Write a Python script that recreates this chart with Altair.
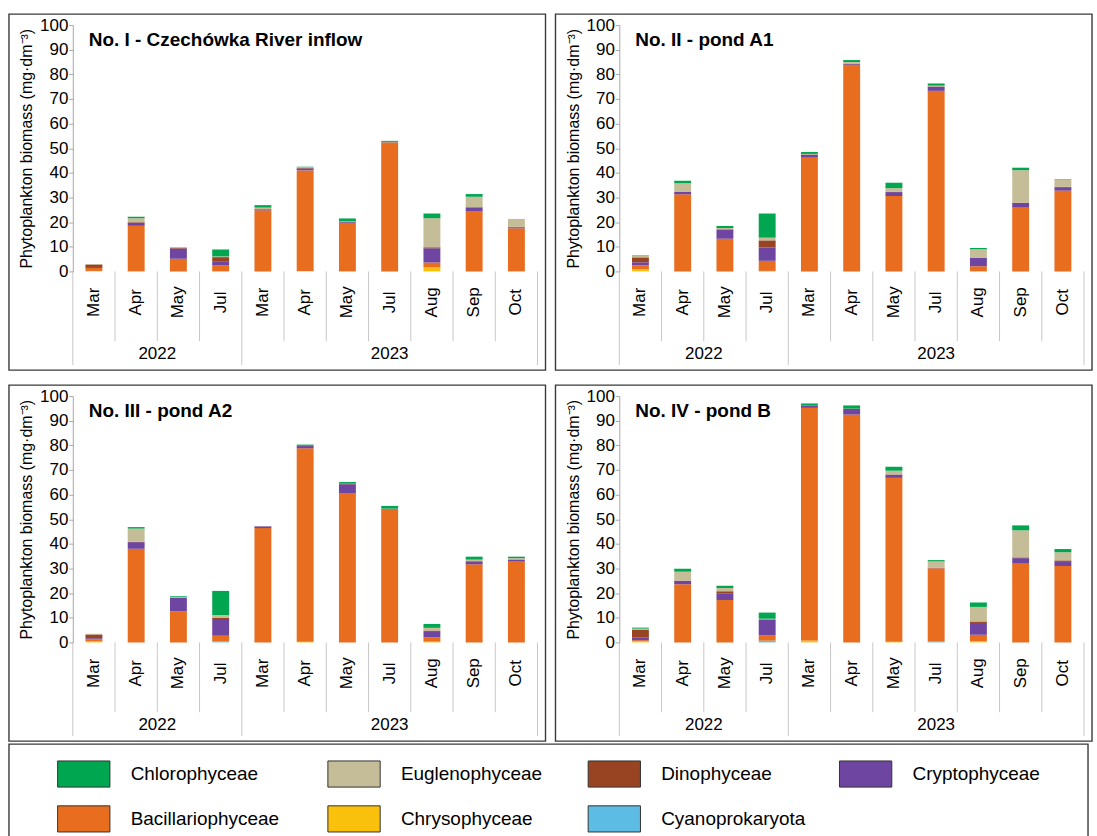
import altair as alt
import pandas as pd

# Sampling dates (month, year) shared by all four sites
months = ["Mar", "Apr", "May", "Jul", "Mar", "Apr", "May", "Jul", "Aug", "Sep", "Oct"]
years = ["2022", "2022", "2022", "2022", "2023", "2023", "2023", "2023", "2023", "2023", "2023"]

# Taxonomic groups, bottom of the stack first
groups = ["Cyanoprokaryota", "Chrysophyceae", "Bacillariophyceae", "Cryptophyceae",
          "Dinophyceae", "Euglenophyceae", "Chlorophyceae"]
group_colors = ["#5DBCE4", "#F9C10B", "#E86D1F", "#6E45A0", "#984321", "#C4BD97", "#00A650"]

# Biomass (mg/dm3) per group, one value per sampling date
# No. I - Czechówka River inflow
I_cyano = [0, 0, 0, 0, 0, 0, 0, 0, 0, 0, 0]
I_chryso = [0.2, 0, 0, 0, 0, 0.2, 0, 0, 1.6, 0, 0]
I_bacil = [1.2, 18.5, 5.1, 2.4, 24.8, 40.8, 19.7, 51.9, 2.0, 24.3, 17.5]
I_crypto = [0.4, 1.3, 4.2, 1.5, 0.4, 0.8, 0.3, 0.2, 5.8, 1.6, 0.4]
I_dino = [1.0, 0.2, 0.2, 1.9, 0.1, 0.2, 0.1, 0.3, 0.4, 0.2, 0.2]
I_eugl = [0.2, 1.6, 0.2, 0.3, 0.6, 0.3, 0.2, 0.2, 11.8, 4.2, 3.2]
I_chloro = [0, 0.6, 0.1, 2.8, 1.0, 0.2, 1.2, 0.4, 1.9, 1.1, 0]

# No. II - pond A1
II_cyano = [0, 0, 0, 0.2, 0, 0, 0, 0, 0, 0, 0]
II_chryso = [0.9, 0, 0, 0, 0, 0, 0, 0, 0, 0, 0]
II_bacil = [1.6, 31.3, 13.3, 4.1, 46.4, 83.8, 30.6, 73.3, 2.1, 25.9, 32.8]
II_crypto = [1.2, 1.0, 3.7, 5.4, 1.0, 0.3, 1.6, 1.7, 3.4, 1.9, 1.4]
II_dino = [2.0, 0.1, 0.1, 2.9, 0.1, 0.1, 0.1, 0.1, 0.1, 0.1, 0.1]
II_eugl = [0.6, 3.4, 0.5, 1.1, 0.2, 0.8, 1.5, 0.3, 3.4, 13.2, 2.9]
II_chloro = [0.2, 1.0, 0.8, 9.8, 0.8, 0.8, 2.2, 0.9, 0.5, 1.0, 0.2]

# No. III - pond A2
III_cyano = [0, 0, 0, 0.5, 0, 0, 0, 0, 0, 0, 0]
III_chryso = [0.4, 0, 0, 0, 0, 0.3, 0, 0, 0.3, 0, 0]
III_bacil = [0.9, 38.0, 12.6, 2.2, 46.4, 78.5, 60.5, 54.2, 1.8, 31.7, 32.8]
III_crypto = [0.4, 2.7, 5.5, 6.4, 0.7, 0.9, 3.7, 0.1, 2.5, 1.2, 0.8]
III_dino = [1.5, 0.1, 0.1, 0.8, 0, 0.1, 0.1, 0, 0.2, 0.1, 0.1]
III_eugl = [0.3, 5.4, 0.2, 1.2, 0, 0, 0.1, 0, 1.1, 0.6, 0.5]
III_chloro = [0, 0.6, 0.3, 9.8, 0, 0.5, 0.7, 1.1, 1.6, 1.2, 0.6]

# No. IV - pond B
IV_cyano = [0, 0, 0, 0.7, 0, 0, 0, 0.4, 0, 0, 0]
IV_chryso = [0.5, 0, 0, 0, 0.8, 0, 0.3, 0, 0.5, 0, 0]
IV_bacil = [0.4, 23.6, 17.2, 2.1, 94.4, 92.5, 66.5, 29.7, 2.6, 32.2, 31.0]
IV_crypto = [1.0, 1.4, 2.8, 6.5, 1.0, 2.3, 1.3, 0.2, 4.8, 2.0, 2.0]
IV_dino = [3.3, 0.1, 0.8, 0.1, 0, 0.1, 0.1, 0, 0.6, 0.3, 0.3]
IV_eugl = [0.4, 3.6, 1.3, 0.2, 0, 0, 1.5, 2.6, 5.9, 11.0, 3.3]
IV_chloro = [0.4, 1.2, 0.9, 2.5, 0.8, 1.3, 1.6, 0.5, 1.8, 2.0, 1.3]

# Legend grid placement (column, row) for each group
legend_col = [2, 1, 0, 3, 2, 1, 0]
legend_row = [1, 1, 1, 0, 0, 0, 0]

FONT = "Arial"
W, H = 466, 247
LEFT = 64  # room for the y axis inside each panel frame
keys = [f"{y} {m}" for y, m in zip(years, months)]
color_scale = alt.Scale(domain=groups, range=group_colors)
x_scale = alt.Scale(domain=keys, paddingInner=0, paddingOuter=0)


def xk(**kw):
    return alt.X("key:N", scale=x_scale, sort=keys, **kw)


def panel(title, series):
    rows = []
    for rank, (g, vals) in enumerate(zip(groups, series)):
        for k, v in zip(keys, vals):
            rows.append({"key": k, "group": g, "rank": rank, "value": v})
    df = pd.DataFrame(rows)

    frame = alt.Chart(pd.DataFrame({"k": [0]})).mark_rect(
        fillOpacity=0, stroke="#3a3a3a", strokeWidth=1.4
    ).encode(x=alt.value(-LEFT), x2=alt.value(W + 8), y=alt.value(-11), y2=alt.value(H + 99))

    bars = alt.Chart(df).mark_bar(width=alt.RelativeBandSize(0.4)).encode(
        x=xk(axis=alt.Axis(labels=False, ticks=False, title=None, zindex=1,
                           domainColor="#a8a8a8", domainWidth=1)),
        y=alt.Y("value:Q", stack="zero",
                scale=alt.Scale(domain=[0, 100], nice=False),
                axis=alt.Axis(values=list(range(0, 101, 10)),
                              title="Phytoplankton biomass (mg·dm⁻³)",
                              titleFontSize=16, titleFontWeight="normal", titleColor="black",
                              titlePadding=5, labelFontSize=17, labelColor="black",
                              labelPadding=1, tickSize=4, tickColor="#a8a8a8", zindex=1,
                              domainColor="#a8a8a8", grid=False)),
        color=alt.Color("group:N", scale=color_scale, legend=None),
        order=alt.Order("rank:Q", sort="ascending"),
    )

    mdf = pd.DataFrame({"key": keys, "month": months, "year": years})
    month_text = alt.Chart(mdf).mark_text(
        angle=270, fontSize=17, font=FONT, align="center", baseline="middle", color="black"
    ).encode(x=xk(axis=None), y=alt.value(H + 31), text="month:N")

    first_of_year = [i == 0 or years[i] != years[i - 1] for i in range(len(keys))]
    month_sep = alt.Chart(mdf[[not f for f in first_of_year]]).mark_rule(
        color="#c8c8c8", strokeWidth=1
    ).encode(x=xk(axis=None, bandPosition=0), y=alt.value(H), y2=alt.value(H + 70))
    year_sep = alt.Chart(mdf[first_of_year]).mark_rule(
        color="#c8c8c8", strokeWidth=1
    ).encode(x=xk(axis=None, bandPosition=0), y=alt.value(H), y2=alt.value(H + 94))
    end_sep = alt.Chart(mdf.tail(1)).mark_rule(
        color="#c8c8c8", strokeWidth=1
    ).encode(x=xk(axis=None, bandPosition=1), y=alt.value(H), y2=alt.value(H + 94))

    # year captions centred under each year's block of months
    y22 = alt.Chart(pd.DataFrame({"key": ["2022 Apr"], "year": ["2022"]})).mark_text(
        fontSize=17, font=FONT, baseline="middle", color="black"
    ).encode(x=xk(axis=None, bandPosition=1), y=alt.value(H + 83), text="year:N")
    y23 = alt.Chart(pd.DataFrame({"key": ["2023 Jul"], "year": ["2023"]})).mark_text(
        fontSize=17, font=FONT, baseline="middle", color="black"
    ).encode(x=xk(axis=None, bandPosition=0.5), y=alt.value(H + 83), text="year:N")

    head = alt.Chart(pd.DataFrame({"t": [title]})).mark_text(
        fontSize=19, font=FONT, fontWeight="bold", align="left", baseline="middle", color="black"
    ).encode(x=alt.value(16), y=alt.value(15), text="t:N")

    return alt.layer(bars, month_sep, year_sep, end_sep, month_text, y22, y23, head, frame).properties(
        width=W, height=H
    )


p1 = panel("No. I - Czechówka River inflow",
           [I_cyano, I_chryso, I_bacil, I_crypto, I_dino, I_eugl, I_chloro])
p2 = panel("No. II - pond A1",
           [II_cyano, II_chryso, II_bacil, II_crypto, II_dino, II_eugl, II_chloro])
p3 = panel("No. III - pond A2",
           [III_cyano, III_chryso, III_bacil, III_crypto, III_dino, III_eugl, III_chloro])
p4 = panel("No. IV -  pond B",
           [IV_cyano, IV_chryso, IV_bacil, IV_crypto, IV_dino, IV_eugl, IV_chloro])

# Legend drawn as its own small chart below the panels; its origin lines up
# with the first panel's plot area, so the frame starts LEFT pixels to the left
LW, LH = 1082, 94
ldf = pd.DataFrame({"group": groups, "col": legend_col, "row": legend_row})
lx = alt.X("col:Q", scale=alt.Scale(domain=[0, 1, 2, 3],
                                    range=[75 - LEFT, 346 - LEFT, 607 - LEFT, 859 - LEFT]), axis=None)
ly = alt.Y("row:Q", scale=alt.Scale(domain=[0, 1], range=[30, 75]), axis=None)
lframe = alt.Chart(pd.DataFrame({"k": [0]})).mark_rect(
    fillOpacity=0, stroke="#3a3a3a", strokeWidth=1.4
).encode(x=alt.value(-LEFT), x2=alt.value(LW - LEFT), y=alt.value(0), y2=alt.value(LH))
lsym = alt.Chart(ldf).mark_point(
    shape="M-1,-0.5H1V0.5H-1Z", size=2750, filled=True, opacity=1,
    stroke="#333333", strokeWidth=1
).encode(x=lx, y=ly, color=alt.Color("group:N", scale=color_scale, legend=None))
ltxt = alt.Chart(ldf).mark_text(
    align="left", baseline="middle", dx=47, fontSize=19, font=FONT, color="black"
).encode(x=lx, y=ly, text="group:N")
legend = alt.layer(lsym, ltxt, lframe).properties(width=LW - 2 * LEFT, height=LH)

grid = alt.vconcat(
    alt.hconcat(p1, p2, spacing=8),
    alt.hconcat(p3, p4, spacing=8),
    spacing=13,
)
chart = alt.vconcat(grid, legend, spacing=1).properties(
    padding={"left": 8, "top": 12, "right": 4, "bottom": 0}
).configure(font=FONT, background="white").configure_view(strokeWidth=0)

chart.save("out.html", embed_options={"renderer": "svg", "actions": False})
